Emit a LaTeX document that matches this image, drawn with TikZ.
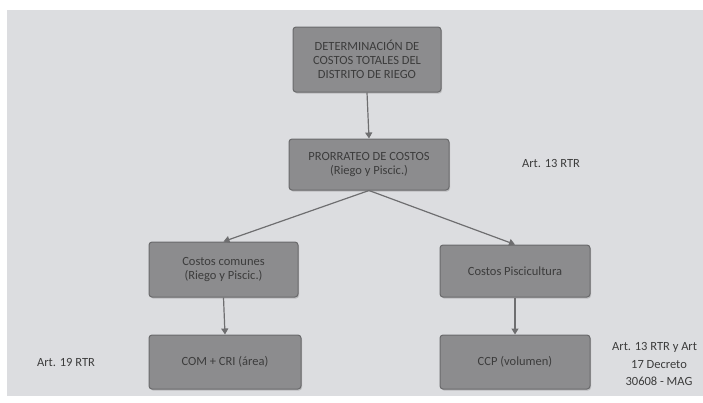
\documentclass[tikz,border=0pt]{standalone}
\usepackage{fontspec}
\setmainfont{Carlito}
\usetikzlibrary{arrows.meta,shadows}
\definecolor{bgc}{HTML}{DCDDE0}
\definecolor{boxc}{HTML}{8C8C8E}
\definecolor{boxd}{HTML}{6A6A6C}
\definecolor{txtc}{HTML}{3C3C3C}
\definecolor{arrc}{HTML}{6E6E70}
\tikzset{
  boxnode/.style={draw=boxd, line width=1pt, fill=boxc, rounded corners=3pt,
    anchor=center, align=center, text=txtc, font=\fontsize{12.5}{14}\selectfont, inner sep=1pt,
    drop shadow={shadow xshift=1pt, shadow yshift=-1.5pt, opacity=0.35}},
  lbl/.style={text=txtc, font=\fontsize{12.5}{17}\selectfont, align=center, inner sep=0pt},
  conn/.style={draw=arrc, line width=1.2pt, -{Triangle[width=7pt,length=6pt]}}
}
\begin{document}
\begin{tikzpicture}[x=1pt,y=-1pt]
\useasboundingbox (0,0) rectangle (703,402);
\fill[white] (0,0) rectangle (703,402);
\fill[bgc] (7,10) rectangle (703,396);
\node[boxnode, minimum width=148pt, minimum height=65pt] (top) at (367,59.5)
  {DETERMINACIÓN DE\\COSTOS TOTALES DEL\\DISTRITO DE RIEGO};
\node[boxnode, minimum width=160pt, minimum height=51pt] (pro) at (369,164.5)
  {PRORRATEO DE COSTOS\\(Riego y Piscic.)};
\node[boxnode, minimum width=149pt, minimum height=55pt] (cc) at (223.5,269.5)
  {Costos comunes\\(Riego y Piscic.)};
\node[boxnode, minimum width=150pt, minimum height=52pt] (cp) at (515,271)
  {Costos Piscicultura};
\node[boxnode, minimum width=152pt, minimum height=54pt] (com) at (225,362)
  {COM + CRI (área)};
\node[boxnode, minimum width=150pt, minimum height=54pt] (ccp) at (515,362)
  {CCP (volumen)};
\node[lbl] (a13) at (551,163) {Art. 13 RTR};
\node[lbl] (a19) at (66,362) {Art. 19 RTR};
\node[lbl, anchor=west] (a13b) at (612,347) {Art. 13 RTR y Art};
\node[lbl] (a17) at (659,373.5) {17 Decreto\\30608 - MAG};
\draw[conn] (top.south) -- (pro.north);
\draw[conn] (pro.south) -- (cc.north);
\draw[conn] (pro.south) -- (cp.north);
\draw[conn] (cc.south) -- (com.north);
\draw[conn] (cp.south) -- (ccp.north);
\end{tikzpicture}
\end{document}
